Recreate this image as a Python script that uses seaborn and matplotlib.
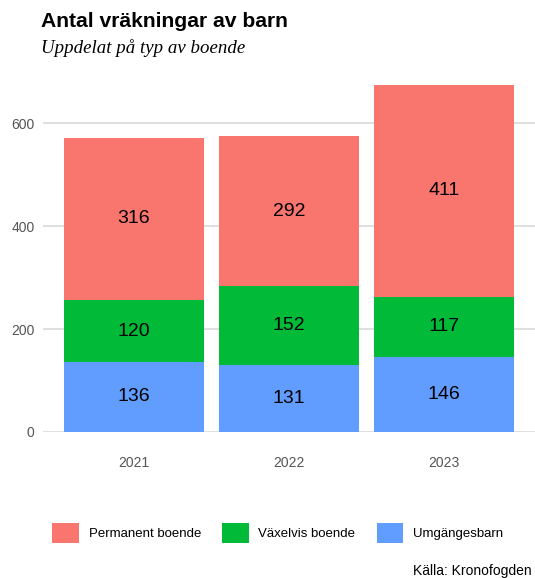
import pandas as pd
import numpy as np
import matplotlib.pyplot as plt
import seaborn as sns
from matplotlib.patches import Patch

# data
years = ['2021', '2022', '2023']
umgangesbarn = [136, 131, 146]
vaxelvis = [120, 152, 117]
permanent = [316, 292, 411]
serier = ['Permanent boende', 'Växelvis boende', 'Umgängesbarn']
farger = ['#F8766D', '#00BA38', '#619CFF']
yticks = [0, 200, 400, 600]

df = pd.DataFrame({'year': years, 'umg': umgangesbarn, 'vax': vaxelvis, 'perm': permanent})
df['s1'] = df['umg']
df['s2'] = df['umg'] + df['vax']
df['s3'] = df['s2'] + df['perm']

sns.set_style('white')
plt.rcParams['font.family'] = ['Liberation Sans', 'DejaVu Sans']

fig = plt.figure(figsize=(5.35, 5.78), dpi=100)
ax = fig.add_axes([0.080, 0.2526, 0.92, 0.6234])

# stapla genom att rita kumulativa summor ovanpå varandra
for col, c in zip(['s3', 's2', 's1'], farger):
    sns.barplot(data=df, x='year', y=col, color=c, saturation=1, width=0.9,
                linewidth=0, ax=ax, zorder=2)

for i in range(len(years)):
    mids = [df['s1'][i] / 2, (df['s1'][i] + df['s2'][i]) / 2, (df['s2'][i] + df['s3'][i]) / 2]
    vals = [umgangesbarn[i], vaxelvis[i], permanent[i]]
    for m, v in zip(mids, vals):
        ax.text(i, m, str(v), ha='center', va='center', fontsize=14, color='black', zorder=3)

ax.set_xlim(-0.587, 2.587)
ax.set_ylim(0, 700)
ax.set_yticks(yticks)
ax.yaxis.grid(True, color='#d9d9d9', linewidth=1.2, zorder=0)
ax.set_axisbelow(True)
for s in ax.spines.values():
    s.set_visible(False)
ax.set_xlabel('')
ax.set_ylabel('')
ax.tick_params(axis='y', length=0, pad=6, labelsize=10, labelcolor='#555555')
ax.tick_params(axis='x', length=0, pad=17, labelsize=10, labelcolor='#555555')

fig.text(0.077, 0.962, 'Antal vräkningar av barn', fontsize=15.2, fontweight='bold',
         va='center', color='black')
fig.text(0.077, 0.917, 'Uppdelat på typ av boende', fontsize=13.6, fontstyle='italic',
         family=['Liberation Serif', 'DejaVu Serif'], va='center', color='black')

handles = [Patch(facecolor=c, edgecolor='none') for c in farger]
leg = fig.legend(handles, serier, loc='center left', bbox_to_anchor=(0.098, 0.078), ncol=3,
                 frameon=False, fontsize=9.5, handlelength=2.0, handleheight=2.0,
                 handletextpad=0.75, columnspacing=1.6, borderpad=0, borderaxespad=0)
for t in leg.get_texts():
    t.set_color('black')

fig.text(0.994, 0.0, 'Källa: Kronofogden', ha='right', va='bottom', fontsize=10, color='black')

fig.savefig('out.png', dpi=100)
